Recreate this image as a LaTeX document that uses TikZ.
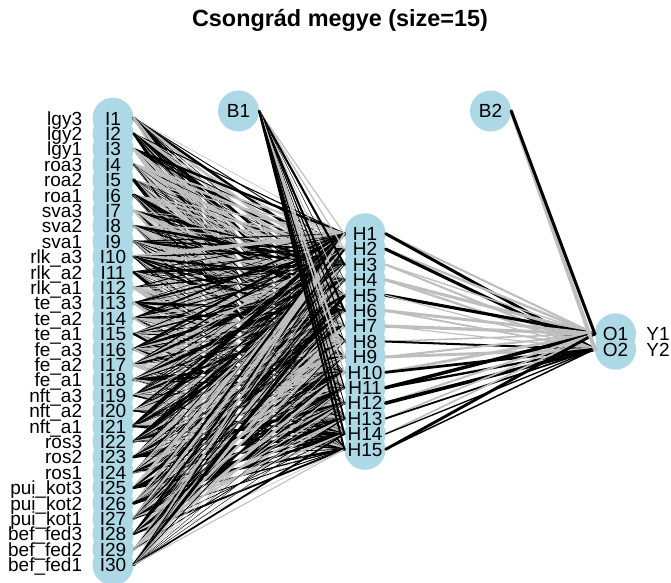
\documentclass[tikz,border=0pt]{standalone}
\usepackage{fontspec}
\setmainfont{Liberation Sans}
\usetikzlibrary{positioning}
\definecolor{nodeblue}{HTML}{ADD8E6}
\definecolor{edgegrey}{HTML}{BEBEBE}

\begin{document}
\begin{tikzpicture}[
        x=1pt, y=-1pt,
        neuron/.style={circle, fill=nodeblue, minimum size=41pt, inner sep=0pt}, % Стиль нейронов
        lbl/.style={inner sep=0pt, text height=13.6pt, text depth=0pt,
            font=\fontsize{19}{19}\selectfont},
        wire/.style={line cap=round},
    ]
    \useasboundingbox (0,0) rectangle (671,582);
    \pgfmathsetseed{4711}

    \node[font=\bfseries\fontsize{23.4}{23.4}\selectfont] (title) at (340,20) {Csongrád megye (size=15)};

    % Нейроны: сначала круги, потом подписи
    \foreach \i in {1,...,30}
        \node[neuron] (I\i) at (113, {341.5+(\i-15.5)*15.4}) {};
    \foreach \j in {1,...,15}
        \node[neuron] (H\j) at (365, {341.5+(\j-8)*15.4}) {};
    \foreach \k in {1,2}
        \node[neuron] (O\k) at (615.5, {341.5+(\k-1.5)*15.4}) {};
    \node[neuron] (B1) at (238.5,111) {};
    \node[neuron] (B2) at (490.5,111) {};

    \foreach \lab [count=\i] in {lgy3, lgy2, lgy1, roa3, roa2, roa1, sva3, sva2, sva1,
            rlk\_a3, rlk\_a2, rlk\_a1, te\_a3, te\_a2, te\_a1, fe\_a3, fe\_a2, fe\_a1,
            nft\_a3, nft\_a2, nft\_a1, ros3, ros2, ros1, pui\_kot3, pui\_kot2, pui\_kot1,
            bef\_fed3, bef\_fed2, bef\_fed1} {
        \node[lbl] (tI\i) at (I\i) {I\i};
        \node[lbl, anchor=east, left=10pt of I\i] (in\i) {\lab};
    }
    \foreach \j in {1,...,15}
        \node[lbl] (tH\j) at (H\j) {H\j};
    \foreach \lab [count=\k] in {Y1, Y2} {
        \node[lbl] (tO\k) at (O\k) {O\k};
        \node[lbl, anchor=west, right=10pt of O\k] (out\k) {\lab};
    }
    \node[lbl] (tB1) at (B1) {B1};
    \node[lbl] (tB2) at (B2) {B2};

    % Связи вход -> скрытый
    \foreach \i in {1,...,30}
        \foreach \j in {1,...,15} {
            \pgfmathsetmacro\w{0.3+3.6*rnd*rnd}
            \pgfmathtruncatemacro\s{rnd<0.55 ? 1 : 0}
            \ifnum\s=1 \def\col{black}\else\def\col{edgegrey}\fi
            \draw[wire, \col, line width=\w pt] (I\i.east) -- (H\j.west);
        }

    % Связи смещения B1 -> скрытый
    \foreach \j in {1,...,15} {
        \pgfmathsetmacro\w{0.4+1.8*rnd}
        \pgfmathtruncatemacro\s{rnd<0.7 ? 1 : 0}
        \ifnum\s=1 \def\col{black}\else\def\col{edgegrey}\fi
        \draw[wire, \col, line width=\w pt] (B1.east) -- (H\j.west);
    }

    % Связи скрытый -> выход
    \foreach \j in {1,...,15}
        \foreach \k in {1,2} {
            \pgfmathsetmacro\w{1+2.8*rnd}
            \pgfmathtruncatemacro\s{rnd<0.5 ? 1 : 0}
            \ifnum\s=1 \def\col{black}\else\def\col{edgegrey}\fi
            \draw[wire, \col, line width=\w pt] (H\j.east) -- (O\k.west);
        }

    \draw[wire, edgegrey, line width=4pt] (B2.east) -- (O2.west);
    \draw[wire, black, line width=3pt] (B2.east) -- (O1.west);
\end{tikzpicture}
\end{document}
